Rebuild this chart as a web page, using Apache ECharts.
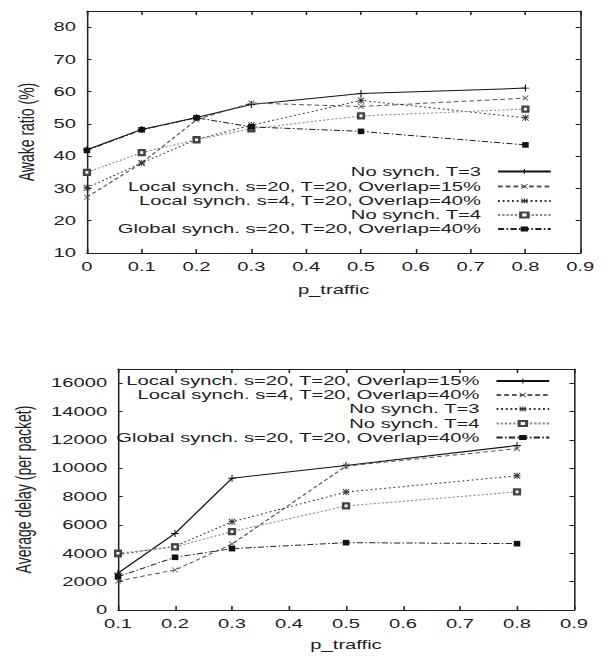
<!DOCTYPE html>
<html>
<head>
<meta charset="utf-8">
<script src="https://cdn.jsdelivr.net/npm/echarts@6/dist/echarts.min.js"></script>
<style>
  html, body { margin: 0; padding: 0; background: #fff; overflow: hidden; }
  /* the source figure is stretched horizontally, so the chart is drawn narrow and widened */
  #main { width: 388px; height: 656px; transform: scaleX(1.5515); transform-origin: 0 0; }
</style>
</head>
<body>
<div id="main"></div>
<script>
// ---- top chart: awake ratio ----
var topX = [0, 0.1, 0.2, 0.3, 0.5, 0.8];
var topNames = ['No synch. T=3', 'Local synch. s=20, T=20, Overlap=15%', 'Local synch. s=4, T=20, Overlap=40%',
                'No synch. T=4', 'Global synch. s=20, T=20, Overlap=40%'];
var topNoSynchT3 = [42, 48.3, 52, 56, 59.4, 61.1];
var topLocal15 = [27.3, 37.9, 51.3, 56.5, 55.4, 58];
var topLocal40 = [30.2, 37.9, 45.2, 49.6, 57.3, 51.9];
var topNoSynchT4 = [35, 41.1, 45.1, 48.5, 52.5, 54.6];
var topGlobal = [41.8, 48.2, 51.9, 49.1, 47.7, 43.5];

// ---- bottom chart: average delay ----
var botX = [0.1, 0.2, 0.3, 0.5, 0.8];
var botNames = ['Local synch. s=20, T=20, Overlap=15%', 'Local synch. s=4, T=20, Overlap=40%', 'No synch. T=3',
                'No synch. T=4', 'Global synch. s=20, T=20, Overlap=40%'];
var botLocal15 = [2600, 5400, 9300, 10200, 11600];
var botLocal40 = [2050, 2820, 4650, 10150, 11380];
var botNoSynchT3 = [3900, 4500, 6220, 8320, 9470];
var botNoSynchT4 = [4000, 4450, 5530, 7340, 8330];
var botGlobal = [2350, 3720, 4330, 4750, 4680];

var plusPath = 'path://M4.3,0H5.7V10H4.3Z M0,4.3H10V5.7H0Z';
var crossPath = 'path://M0,1L1,0L10,9L9,10Z M9,0L10,1L1,10L0,9Z';
var starPath = 'path://M4.3,0H5.7V10H4.3Z M0,4.3H10V5.7H0Z M0,1L1,0L10,9L9,10Z M9,0L10,1L1,10L0,9Z';

// gnuplot line types 1..5
var styles = [
    {symbol: plusPath, size: [5, 7], dash: 'solid', color: '#111', fill: '#111'},
    {symbol: crossPath, size: [4, 5.5], dash: [3, 2], color: '#555', fill: '#555'},
    {symbol: starPath, size: [4.5, 6.5], dash: [1.2, 1.8], color: '#333', fill: '#333'},
    {symbol: 'emptyRect', size: [3.6, 5], dash: [1.5, 1.2], color: '#8a8a8a', fill: '#444'},
    {symbol: 'rect', size: [4.2, 5.6], dash: [4, 1.5, 1, 1.5], color: '#222', fill: '#111'}
];

var font = "'Liberation Sans', Arial, sans-serif";
var ink = '#1e1e1e';

function mkSeries(name, xs, ys, st, axisIndex) {
    return {
        name: name,
        type: 'line',
        xAxisIndex: axisIndex,
        yAxisIndex: axisIndex,
        data: xs.map(function(x, i) { return [x, ys[i]]; }),
        symbol: st.symbol,
        symbolSize: st.size,
        showSymbol: true,
        lineStyle: {color: st.color, width: 1, type: st.dash},
        itemStyle: st.symbol === 'emptyRect' ?
            {color: st.fill, borderColor: st.fill, borderWidth: 1} :
            {color: st.fill, borderWidth: 0},
        emphasis: {disabled: true}
    };
}

function legendFor(name, top, right) {
    return {
        data: [name],
        top: top,
        right: right,
        align: 'right',
        padding: 0,
        itemWidth: 34,
        itemHeight: 6,
        selectedMode: false,
        formatter: function(n) { return n.trim(); },
        textStyle: {fontFamily: font, fontSize: 13, color: ink, padding: [0, 6, 0, 0]}
    };
}

function xAxes(gridIndex, min, name, nameGap) {
    var base = {
        type: 'value', gridIndex: gridIndex, min: min, max: 0.9, interval: 0.1,
        splitLine: {show: false},
        axisLine: {onZero: false, lineStyle: {color: '#222', width: 1}},
        axisTick: {inside: true, length: 4, lineStyle: {color: '#222'}}
    };
    var bottom = echarts.util.merge({
        position: 'bottom', name: name, nameLocation: 'middle', nameGap: nameGap,
        nameTextStyle: {fontFamily: font, fontSize: 13, color: ink},
        axisLabel: {fontFamily: font, fontSize: 13, color: ink, margin: 7}
    }, base, true);
    var topAx = echarts.util.merge({position: 'top', axisLabel: {show: false}}, base, true);
    return [bottom, topAx];
}

function yAxes(gridIndex, min, max, interval, name, nameGap) {
    var base = {
        type: 'value', gridIndex: gridIndex, min: min, max: max, interval: interval,
        splitLine: {show: false},
        axisLine: {show: true, onZero: false, lineStyle: {color: '#222', width: 1}},
        axisTick: {show: true, inside: true, length: 3, lineStyle: {color: '#222'}}
    };
    var left = echarts.util.merge({
        position: 'left', name: name, nameLocation: 'middle', nameGap: nameGap,
        nameTextStyle: {fontFamily: font, fontSize: 14, color: ink},
        axisLabel: {fontFamily: font, fontSize: 13, color: ink, margin: 7, showMaxLabel: false,
                    formatter: function(v) { return String(v); }}
    }, base, true);
    var right = echarts.util.merge({position: 'right', axisLabel: {show: false}}, base, true);
    return [left, right];
}

var topData = [topNoSynchT3, topLocal15, topLocal40, topNoSynchT4, topGlobal];
var botData = [botLocal15, botLocal40, botNoSynchT3, botNoSynchT4, botGlobal];

var series = [];
topNames.forEach(function(n, i) { series.push(mkSeries(n, topX, topData[i], styles[i], 0)); });
// bottom names get a trailing space so their legend icons use the bottom chart styles
botNames.forEach(function(n, i) { series.push(mkSeries(n + ' ', botX, botData[i], styles[i], 2)); });

var topRows = [165, 180, 194.5, 208.5, 222.5];
var botRows = [374.5, 388.5, 402.5, 417, 431];
var legends = [];
topNames.forEach(function(n, i) { legends.push(legendFor(n, topRows[i], 32)); });
botNames.forEach(function(n, i) { legends.push(legendFor(n + ' ', botRows[i], 33)); });

var xa = xAxes(0, 0, 'p_traffic', 30).concat(xAxes(1, 0.1, 'p_traffic', 28));
var ya = yAxes(0, 10, 85, 10, 'Awake ratio (%)', 30).concat(yAxes(1, 0, 17000, 2000, 'Average delay (per packet)', 53));
// axes 0,1 -> grid 0 ; axes 2,3 -> grid 1 (series use index 0 and 2)

var chart = echarts.init(document.getElementById('main'), null, {renderer: 'svg'});
chart.setOption({
    animation: false,
    backgroundColor: '#fff',
    grid: [
        {left: 56, right: 14, top: 11, height: 242},
        {left: 74, right: 18, top: 369, height: 241}
    ],
    legend: legends,
    xAxis: xa,
    yAxis: ya,
    series: series
});
</script>
</body>
</html>
